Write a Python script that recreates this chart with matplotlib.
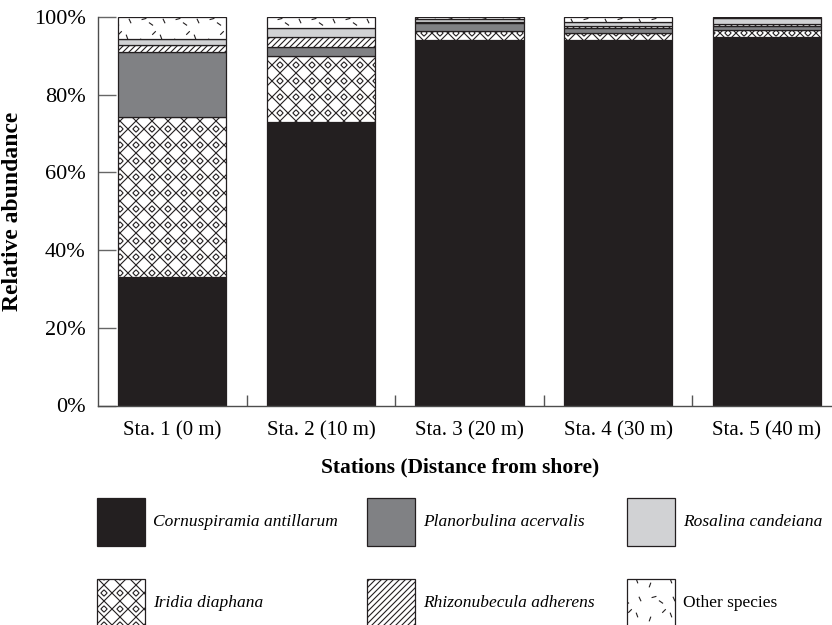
import matplotlib
matplotlib.use("Agg")
import matplotlib.pyplot as plt
import numpy as np
from matplotlib.collections import LineCollection
from matplotlib.patches import Rectangle
from matplotlib.transforms import IdentityTransform

plt.rcParams["font.family"] = ["Liberation Serif", "DejaVu Serif"]

# ---- data (percent of assemblage) ----
stations = ["Sta. 1 (0 m)", "Sta. 2 (10 m)", "Sta. 3 (20 m)", "Sta. 4 (30 m)", "Sta. 5 (40 m)"]
species = ["Cornuspiramia antillarum", "Iridia diaphana", "Planorbulina acervalis",
           "Rhizonubecula adherens", "Rosalina candeiana", "Other species"]
cornuspiramia = [33.1, 73.0, 94.2, 94.2, 94.8]
iridia = [41.2, 17.0, 2.3, 1.7, 1.8]
planorbulina = [16.8, 2.4, 2.0, 1.2, 1.0]
rhizonubecula = [1.7, 2.4, 0.2, 0.5, 0.5]
rosalina = [1.5, 2.3, 0.8, 1.1, 1.6]
other = [5.7, 2.9, 0.5, 1.3, 0.3]
yticks = [0, 20, 40, 60, 80, 100]

series = [cornuspiramia, iridia, planorbulina, rhizonubecula, rosalina, other]

INK = "#231f20"
# face colour and fill pattern for each species (same order as above)
styles = [
    ("#231f20", None),
    ("white", "diamond"),
    ("#808184", None),
    ("white", "stripe"),
    ("#d1d2d4", None),
    ("white", "dash"),
]

W, H = 832, 625


# ---- fill patterns, built in pixel space and clipped to a patch ----
def stripe_segs(x0, y0, x1, y1, step=6.0):
    segs = []
    k0 = int(np.floor((x0 - y1) / step)) - 1
    k1 = int(np.ceil((x1 - y0) / step)) + 1
    for k in range(k0, k1 + 1):
        c = k * step  # line x - y = c
        segs.append([(y0 - 2 + c, y0 - 2), (y1 + 2 + c, y1 + 2)])
    return segs


def diamond_segs(x0, y0, x1, y1, D=16.0, r=3.2):
    segs = []
    s0 = int(np.floor((x0 + y0) / D)) - 1
    s1 = int(np.ceil((x1 + y1) / D)) + 1
    d0 = int(np.floor((x0 - y1) / D)) - 1
    d1 = int(np.ceil((x1 - y0) / D)) + 1
    L = (x1 - x0) + (y1 - y0) + 2 * D
    for k in range(s0, s1 + 1):
        c = k * D  # x + y = c
        segs.append([(x0 - D, c - x0 + D), (x0 - D + L, c - x0 + D - L)])
    for k in range(d0, d1 + 1):
        c = k * D  # x - y = c
        segs.append([(x0 - D, x0 - D - c), (x0 - D + L, x0 - D + L - c)])
    for k in range(s0, s1 + 1):
        for m in range(d0, d1 + 1):
            if (k + m) % 2:
                continue
            cx = (k + m + 1) * D / 2
            cy = (k - m) * D / 2
            if x0 - D < cx < x1 + D and y0 - D < cy < y1 + D:
                pts = [(cx - r, cy), (cx, cy + r), (cx + r, cy), (cx, cy - r), (cx - r, cy)]
                segs.extend([[pts[i], pts[i + 1]] for i in range(4)])
    return segs


# fixed little strokes inside one 34 px tile: (x, y, angle in degrees)
DASH_TILE = [(4, 6, 70), (15, 23, -35), (25, 10, 110), (8, 28, 15),
             (28, 26, -65), (18, 14, 45)]


def dash_segs(x0, y0, x1, y1, T=34.0, ln=5.0):
    segs = []
    for tx in np.arange(np.floor(x0 / T) * T, x1 + T, T):
        for ty in np.arange(np.floor(y0 / T) * T, y1 + T, T):
            for dx, dy, a in DASH_TILE:
                cx, cy = tx + dx, ty + dy
                ux, uy = np.cos(np.radians(a)) * ln / 2, np.sin(np.radians(a)) * ln / 2
                segs.append([(cx - ux, cy - uy), (cx + ux, cy + uy)])
    return segs


PATTERNS = {"stripe": stripe_segs, "diamond": diamond_segs, "dash": dash_segs}


def fill_pattern(parent, patch, kind, lw=0.8):
    bb = patch.get_window_extent()
    segs = PATTERNS[kind](bb.x0, bb.y0, bb.x1, bb.y1)
    lc = LineCollection(segs, colors=INK, linewidths=lw, transform=IdentityTransform(),
                        zorder=patch.get_zorder() + 0.1)
    if hasattr(parent, "add_collection"):
        parent.add_collection(lc, autolim=False)
    else:
        parent.add_artist(lc)
    lc.set_clip_path(patch)


fig = plt.figure(figsize=(W / 100, H / 100), dpi=100)
ax = fig.add_axes([98 / W, 1 - 405.5 / H, (841 - 98) / W, (405.5 - 17) / H])
# fix the limits first so the pixel-space patterns land on the bars
ax.set_xlim(-0.5, 4.5)
ax.set_ylim(0, 100)
ax.set_autoscale_on(False)

x = np.arange(len(stations))
bottom = np.zeros(len(stations))
for vals, (fc, pat) in zip(series, styles):
    bars = ax.bar(x, vals, width=0.727, bottom=bottom, color=fc,
                  edgecolor=INK, linewidth=0.9, zorder=2)
    bottom += np.array(vals)
    if pat:
        for b in bars:
            fill_pattern(ax, b, pat)

ax.set_yticks(yticks)
ax.set_yticklabels([f"{v}%" for v in yticks], fontsize=16)
ax.set_xticks(x)
ax.set_xticklabels(stations, fontsize=15)
ax.set_xticks(x[:-1] + 0.5, minor=True)
ax.tick_params(axis="x", which="major", length=0, pad=11)
ax.tick_params(axis="x", which="minor", direction="in", length=8, width=1, color="#555555")
ax.tick_params(axis="y", direction="in", length=13, width=1, color="#666666", pad=9)

for side in ["top", "right"]:
    ax.spines[side].set_visible(False)
for side in ["left", "bottom"]:
    ax.spines[side].set_color("#4d4d4d")
    ax.spines[side].set_linewidth(1.0)

ax.set_ylabel("Relative abundance", fontsize=17, fontweight="bold", labelpad=8)
ax.set_xlabel("Stations (Distance from shore)", fontsize=15.5, fontweight="bold")
ax.xaxis.set_label_coords((460 - 98) / (841 - 98), -0.135)

# ---- legend: 3 columns x 2 rows of tall swatches ----
col_x = [97, 367, 627]
row_top = [498, 579]
box = 48
order = [[0, 2, 4], [1, 3, 5]]
for r, row in enumerate(order):
    for c, idx in enumerate(row):
        bx, by = col_x[c], H - row_top[r] - box
        fc, pat = styles[idx]
        rect = Rectangle((bx, by), box, box, facecolor=fc, edgecolor=INK,
                         linewidth=0.9, transform=IdentityTransform(), zorder=2)
        fig.add_artist(rect)
        if pat:
            fill_pattern(fig, rect, pat)
        style = "normal" if species[idx] == "Other species" else "italic"
        fig.text((bx + box + 8) / W, (by + box / 2) / H, species[idx], fontsize=12.5,
                 fontstyle=style, va="center", ha="left")

fig.savefig("out.png", dpi=100, facecolor="white")
